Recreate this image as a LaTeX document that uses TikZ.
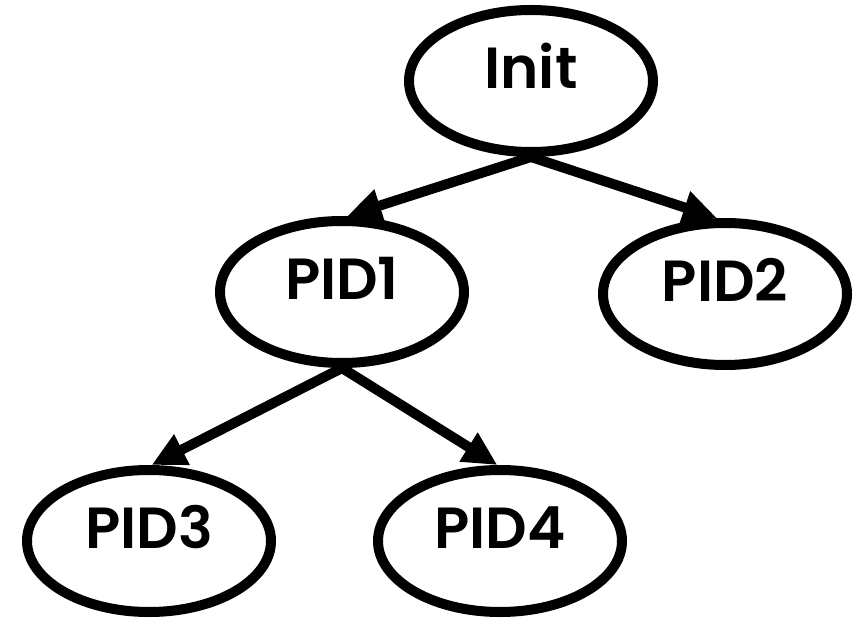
\documentclass[tikz,border=0pt]{standalone}
\usepackage{fontspec}
\setmainfont{Poppins}[BoldFont={* SemiBold}]
\usetikzlibrary{shapes.geometric,arrows.meta}

\begin{document}
\begin{tikzpicture}[
  x=1pt,
  y=-1pt,
  proc/.style={ellipse, draw, line width=10pt, minimum width=244pt,
    minimum height=142pt, font=\fontsize{58}{58}\selectfont\bfseries,
    text height=43pt, text depth=28pt},
  fork/.style={line width=10pt, -{Triangle[length=34pt,width=32pt]}}
]

% White background
\fill[white] (0,0) rectangle (854,620);

% Processes
\node[proc] (init) at (531,81) {Init};
\node[proc] (pid1) at (342,292) {PID1};
\node[proc] (pid2) at (725,294) {PID2};
\node[proc] (pid3) at (149,541) {PID3};
\node[proc] (pid4) at (500,541) {PID4};

% Parent -> child
\draw[fork] (init.south) -- (pid1.86);
\draw[fork] (init.south) -- (pid2.96);
\draw[fork] (pid1.south) -- (pid3.88);
\draw[fork] (pid1.south) -- (pid4.92);

\end{tikzpicture}
\end{document}
